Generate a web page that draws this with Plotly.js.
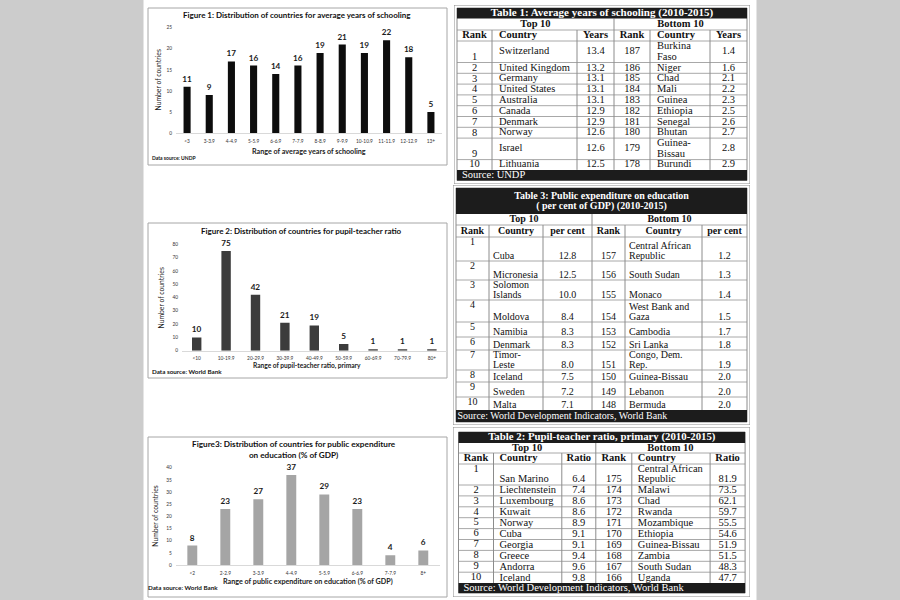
<!DOCTYPE html>
<html><head><meta charset="utf-8">
<script src="https://cdn.plot.ly/plotly-3.0.1.min.js"></script>
<style>html,body{margin:0;padding:0;background:#fff}#chart{width:900px;height:600px}</style>
</head><body><div id="chart"></div>
<script>
// ================= DATA =================
const yAxisTitle = "Number of countries";

const fig1Title = "Figure 1: Distribution of countries for average years of schooling";
const fig1XTitle = "Range of average years of schooling";
const fig1Source = "Data source: UNDP";
const fig1Ranges = ["<3","3-3.9","4-4.9","5-5.9","6-6.9","7-7.9","8-8.9","9-9.9","10-10.9","11-11.9","12-12.9","13+"];
const fig1Counts = [11,9,17,16,14,16,19,21,19,22,18,5];

const fig2Title = "Figure 2: Distribution of countries for pupil-teacher ratio";
const fig2XTitle = "Range of pupil-teacher ratio, primary";
const fig2Source = "Data source: World Bank";
const fig2Ranges = ["<10","10-19.9","20-29.9","30-39.9","40-49.9","50-59.9","60-69.9","70-79.9","80+"];
const fig2Counts = [10,75,42,21,19,5,1,1,1];

const fig3Title = "Figure3: Distribution of countries for public expenditure<br>on education (% of GDP)";
const fig3XTitle = "Range of public expenditure on education (% of GDP)";
const fig3Source = "Data source: World Bank";
const fig3Ranges = ["<2","2-2.9","3-3.9","4-4.9","5-5.9","6-6.9","7-7.9","8+"];
const fig3Counts = [8,23,27,37,29,23,4,6];

const groupHeaders = ["Top 10","Bottom 10"];

const t1Title = "Table 1: Average years of schooling (2010-2015)";
const t1Headers = ["Rank","Country","Years","Rank","Country","Years"];
const t1TopRank = [1,2,3,4,5,6,7,8,9,10];
const t1TopCountry = ["Switzerland","United Kingdom","Germany","United States","Australia","Canada","Denmark","Norway","Israel","Lithuania"];
const t1TopYears = [13.4,13.2,13.1,13.1,13.1,12.9,12.9,12.6,12.6,12.5];
const t1BottomRank = [187,186,185,184,183,182,181,180,179,178];
const t1BottomCountry = ["Burkina<br>Faso","Niger","Chad","Mali","Guinea","Ethiopia","Senegal","Bhutan","Guinea-<br>Bissau","Burundi"];
const t1BottomYears = [1.4,1.6,2.1,2.2,2.3,2.5,2.6,2.7,2.8,2.9];
const t1Source = "Source: UNDP";

const t3Title = "Table 3: Public expenditure on education<br>( per cent of GDP) (2010-2015)";
const t3Headers = ["Rank","Country","per cent","Rank","Country","per cent"];
const t3TopRank = [1,2,3,4,5,6,7,8,9,10];
const t3TopCountry = ["Cuba","Micronesia","Solomon<br>Islands","Moldova","Namibia","Denmark","Timor-<br>Leste","Iceland","Sweden","Malta"];
const t3TopPct = [12.8,12.5,10.0,8.4,8.3,8.3,8.0,7.5,7.2,7.1];
const t3BottomRank = [157,156,155,154,153,152,151,150,149,148];
const t3BottomCountry = ["Central African<br>Republic","South Sudan","Monaco","West Bank and<br>Gaza","Cambodia","Sri Lanka","Congo, Dem.<br>Rep.","Guinea-Bissau","Lebanon","Bermuda"];
const t3BottomPct = [1.2,1.3,1.4,1.5,1.7,1.8,1.9,2.0,2.0,2.0];
const t3Source = "Source: World Development Indicators, World Bank";

const t2Title = "Table 2: Pupil-teacher ratio, primary (2010-2015)";
const t2Headers = ["Rank","Country","Ratio","Rank","Country","Ratio"];
const t2TopRank = [1,2,3,4,5,6,7,8,9,10];
const t2TopCountry = ["San Marino","Liechtenstein","Luxembourg","Kuwait","Norway","Cuba","Georgia","Greece","Andorra","Iceland"];
const t2TopRatio = [6.4,7.4,8.6,8.6,8.9,9.1,9.1,9.4,9.6,9.8];
const t2BottomRank = [175,174,173,172,171,170,169,168,167,166];
const t2BottomCountry = ["Central African<br>Republic","Malawi","Chad","Rwanda","Mozambique","Ethiopia","Guinea-Bissau","Zambia","South Sudan","Uganda"];
const t2BottomRatio = [81.9,73.5,62.1,59.7,55.5,54.6,51.9,51.5,48.3,47.7];
const t2Source = "Source: World Development Indicators, World Bank";

// ================= LAYOUT HELPERS =================
const W = 900, H = 600;
const px = v => v / W;
const py = v => 1 - v / H;
const SANS = "Lato, 'Open Sans', sans-serif";
const SERIF = "'Liberation Serif', 'Times New Roman', serif";
const fmt1 = v => v.toFixed(1);
const bold = t => '<b>' + t + '</b>';

const shapes = [];
const annotations = [];
const traces = [];

// grey side margins
shapes.push({type:'rect', xref:'paper', yref:'paper', x0:0, x1:px(143.5), y0:0, y1:1, fillcolor:'#cccccc', line:{width:0}, layer:'below'});
shapes.push({type:'rect', xref:'paper', yref:'paper', x0:px(756.5), x1:1, y0:0, y1:1, fillcolor:'#cccccc', line:{width:0}, layer:'below'});

// ================= BAR CHARTS =================
const charts = [
  {n:'', ranges:fig1Ranges, counts:fig1Counts, color:'#0d0d0d', width:0.32, box:[148,8,447,165],
   plot:[176,27.7,442,133], yMax:25, dtick:5, title:fig1Title, titlePos:[297,15], titleSize:8.0,
   yTitlePos:[157.5,80], xTitle:fig1XTitle, xTitlePos:[309,151], xTitleSize:7.2, source:fig1Source, sourcePos:[150,158], sourceSize:5.0, labelSize:8.2},
  {n:'2', ranges:fig2Ranges, counts:fig2Counts, color:'#3c3c3c', width:0.32, box:[148,223,447,378],
   plot:[182,244.3,446.6,350.7], yMax:80, dtick:10, title:fig2Title, titlePos:[301,231], titleSize:8.0,
   yTitlePos:[160.5,298], xTitle:fig2XTitle, xTitlePos:[307,365.7], xTitleSize:6.6, source:fig2Source, sourcePos:[150,371.7], sourceSize:6.3, labelSize:8.2},
  {n:'3', ranges:fig3Ranges, counts:fig3Counts, color:'#a5a5a5', width:0.30, box:[148,437,447,597],
   plot:[175.8,467.7,439.8,565], yMax:40, dtick:5, title:fig3Title, titlePos:[294,449.5], titleSize:8.2,
   yTitlePos:[155,516.7], xTitle:fig3XTitle, xTitlePos:[308,581], xTitleSize:7.2, source:fig3Source, sourcePos:[146,587.7], sourceSize:6.3, labelSize:8.2}
];

const layout = {
  width: W, height: H,
  margin: {l:0, r:0, t:0, b:0, pad:0},
  paper_bgcolor: '#ffffff', plot_bgcolor: 'rgba(0,0,0,0)',
  showlegend: false, hovermode: false,
  font: {family: SANS, color: '#000'},
};

charts.forEach(c => {
  const xa = 'x' + c.n, ya = 'y' + c.n;
  traces.push({type:'bar', x:c.ranges, y:c.counts, xaxis:xa, yaxis:ya,
    marker:{color:c.color, line:{width:0}}, width:c.width,
    text:c.counts.map(v => bold(String(v))), textposition:'outside', constraintext:'none', cliponaxis:false,
    textfont:{family:SANS, size:c.labelSize, color:'#1a1a1a'}, hoverinfo:'skip'});
  layout['xaxis' + c.n] = {domain:[px(c.plot[0]), px(c.plot[2])], anchor:ya, type:'category',
    showline:true, linecolor:'#d9d9d9', linewidth:1, ticks:'', showgrid:false, zeroline:false, fixedrange:true,
    tickfont:{family:SANS, size:4.8, color:'#333'}, ticklabelstandoff:3};
  layout['yaxis' + c.n] = {domain:[py(c.plot[3]), py(c.plot[1])], anchor:xa, range:[0, c.yMax], dtick:c.dtick, tick0:0,
    showline:false, ticks:'', showgrid:false, zeroline:false, fixedrange:true,
    tickfont:{family:SANS, size:4.8, color:'#333'}, ticklabelstandoff:3};
  shapes.push({type:'rect', xref:'paper', yref:'paper', x0:px(c.box[0]), x1:px(c.box[2]), y0:py(c.box[3]), y1:py(c.box[1]),
    line:{color:'#a6a6a6', width:1}, fillcolor:'rgba(0,0,0,0)', layer:'below'});
  annotations.push({xref:'paper', yref:'paper', x:px(c.titlePos[0]), y:py(c.titlePos[1]), xanchor:'center', yanchor:'middle',
    text:bold(c.title), showarrow:false, font:{family:SANS, size:c.titleSize, color:'#111'}});
  annotations.push({xref:'paper', yref:'paper', x:px(c.yTitlePos[0]), y:py(c.yTitlePos[1]), xanchor:'center', yanchor:'middle',
    text:yAxisTitle, textangle:-90, showarrow:false, font:{family:SANS, size:6.8, color:'#222'}});
  annotations.push({xref:'paper', yref:'paper', x:px(c.xTitlePos[0]), y:py(c.xTitlePos[1]), xanchor:'center', yanchor:'middle',
    text:bold(c.xTitle), showarrow:false, font:{family:SANS, size:c.xTitleSize, color:'#222'}});
  annotations.push({xref:'paper', yref:'paper', x:px(c.sourcePos[0]), y:py(c.sourcePos[1]), xanchor:'left', yanchor:'middle',
    text:bold(c.source), showarrow:false, font:{family:SANS, size:c.sourceSize, color:'#111'}});
});

// ================= TABLES =================
const r = (n, v) => Array(n).fill(v);
const tables = [
  { axis:4, frame:[454,5,750,184], x0:457, colW:[35,85,37,36,60,37],
    titleTop:8, titleH:10.5, groupH:11.5, headH:11, rowH:[21.5].concat(r(7,10.8), [21.5, 10.3]), sourceH:10.6,
    font:10.5, titleFont:11, lineH:10.3, textPad:7, sourcePad:5,
    align:['center','left','center','center','left','center'], headAlign:['center','left','center','center','left','center'],
    valign:['bottom','middle','middle','middle','middle','middle'],
    title:t1Title, headers:t1Headers, source:t1Source,
    cols:[t1TopRank.map(String), t1TopCountry, t1TopYears.map(fmt1), t1BottomRank.map(String), t1BottomCountry, t1BottomYears.map(fmt1)] },
  { axis:5, frame:[453,185,750,425], x0:456, colW:[33,54,49,33,77,45],
    titleTop:188, titleH:26, groupH:11, headH:12, rowH:[24,19,20,22,15,13,20,12,15,13], sourceH:12,
    font:10, titleFont:10, lineH:10, textPad:4, sourcePad:1.5,
    align:['center','left','center','center','left','center'], headAlign:['center','center','center','center','center','center'],
    valign:['top','bottom','bottom','bottom','bottom','bottom'],
    title:t3Title, headers:t3Headers, source:t3Source,
    cols:[t3TopRank.map(String), t3TopCountry, t3TopPct.map(fmt1), t3BottomRank.map(String), t3BottomCountry, t3BottomPct.map(fmt1)] },
  { axis:6, frame:[453,427,750,597], x0:458.5, colW:[35,68.3,34,36,78.3,35],
    titleTop:432, titleH:11, groupH:10, headH:11, rowH:[21].concat(r(9,10.9)), sourceH:10,
    font:10.5, titleFont:10.8, lineH:10.3, textPad:6, sourcePad:5,
    align:['center','left','center','center','left','center'], headAlign:['center','left','center','center','left','center'],
    valign:['top','bottom','bottom','bottom','bottom','bottom'],
    title:t2Title, headers:t2Headers, source:t2Source,
    cols:[t2TopRank.map(String), t2TopCountry, t2TopRatio.map(fmt1), t2BottomRank.map(String), t2BottomCountry, t2BottomRatio.map(fmt1)] }
];

tables.forEach(T => {
  const xa = 'x' + T.axis, ya = 'y' + T.axis;
  const f = T.frame;
  layout['xaxis' + T.axis] = {domain:[px(f[0]), px(f[2])], range:[f[0], f[2]], anchor:ya, visible:false, fixedrange:true};
  layout['yaxis' + T.axis] = {domain:[py(f[3]), py(f[1])], range:[f[3], f[1]], anchor:xa, visible:false, fixedrange:true};

  const b = [T.x0]; T.colW.forEach(w => b.push(b[b.length - 1] + w));
  const yT = T.titleTop, yG = yT + T.titleH, yH = yG + T.groupH, yD = yH + T.headH;
  const rowTops = []; let acc = yD; T.rowH.forEach(h => { rowTops.push(acc); acc += h; });
  const yS = acc, yE = yS + T.sourceH;

  const line = (x0, y0, x1, y1, color) => shapes.push({type:'line', xref:xa, yref:ya, x0, y0, x1, y1, line:{color, width:1}, layer:'below'});
  const rect = (x0, y0, x1, y1, fill, lc) => shapes.push({type:'rect', xref:xa, yref:ya, x0, y0, x1, y1, fillcolor:fill, line:{color:lc || fill, width:lc ? 1 : 0}, layer:'below'});

  rect(f[0], f[1], f[2], f[3], 'rgba(0,0,0,0)', '#8c8c8c');
  [yH, yD].concat(rowTops.slice(1)).forEach(y => line(b[0], y, b[6], y, '#a8a8a8'));
  line(b[3], yG, b[3], yS, '#8c8c8c');
  [1, 2, 4, 5].forEach(i => line(b[i], yH, b[i], yS, '#8c8c8c'));
  rect(b[0], yT, b[6], yE, 'rgba(0,0,0,0)', '#8c8c8c');
  rect(b[0], yT, b[6], yG, '#1c1c1c');
  rect(b[0], yS, b[6], yE, '#1c1c1c');

  const items = [];
  const place = (text, left, width, top, height, align, valign, style) => {
    const lines = String(text).split('<br>');
    const k = lines.length, lh = T.lineH;
    let first;
    if (valign === 'top') first = top + lh / 2;
    else if (valign === 'bottom') first = top + height - k * lh + lh / 2;
    else first = top + height / 2 - (k - 1) * lh / 2;
    const pad = style.pad !== undefined ? style.pad : T.textPad;
    lines.forEach((ln, i) => items.push({
      x: align === 'left' ? left + pad : left + width / 2,
      y: first + i * lh, text: style.bold ? bold(ln) : ln,
      pos: align === 'left' ? 'middle right' : 'middle center',
      color: style.color || '#111', size: style.size || T.font }));
  };

  place(T.title, b[0], b[6] - b[0], yT, T.titleH, 'center', 'middle', {bold:true, color:'#ffffff', size:T.titleFont});
  place(groupHeaders[0], b[0], b[3] - b[0], yG, T.groupH, 'center', 'middle', {bold:true});
  place(groupHeaders[1], b[3], b[6] - b[3], yG, T.groupH, 'center', 'middle', {bold:true});
  T.headers.forEach((h, i) => place(h, b[i], T.colW[i], yH, T.headH, T.headAlign[i], 'middle', {bold:true}));
  T.cols.forEach((col, i) => col.forEach((v, j) =>
    place(v, b[i], T.colW[i], rowTops[j], T.rowH[j], T.align[i], T.valign[i], {})));
  place(T.source, b[0], b[6] - b[0], yS, T.sourceH, 'left', 'middle', {color:'#ffffff', pad:T.sourcePad});

  const groups = {};
  items.forEach(it => {
    const key = it.pos + '|' + it.color + '|' + it.size;
    (groups[key] = groups[key] || {pos:it.pos, color:it.color, size:it.size, x:[], y:[], text:[]});
    groups[key].x.push(it.x); groups[key].y.push(it.y); groups[key].text.push(it.text);
  });
  Object.values(groups).forEach(g => traces.push({
    type:'scatter', mode:'text', xaxis:xa, yaxis:ya, x:g.x, y:g.y, text:g.text,
    textposition:g.pos, textfont:{family:SERIF, size:g.size, color:g.color},
    cliponaxis:false, hoverinfo:'skip'}));
});

layout.shapes = shapes;
layout.annotations = annotations;

Plotly.newPlot('chart', traces, layout, {staticPlot:true, displayModeBar:false});
</script>
</body></html>
